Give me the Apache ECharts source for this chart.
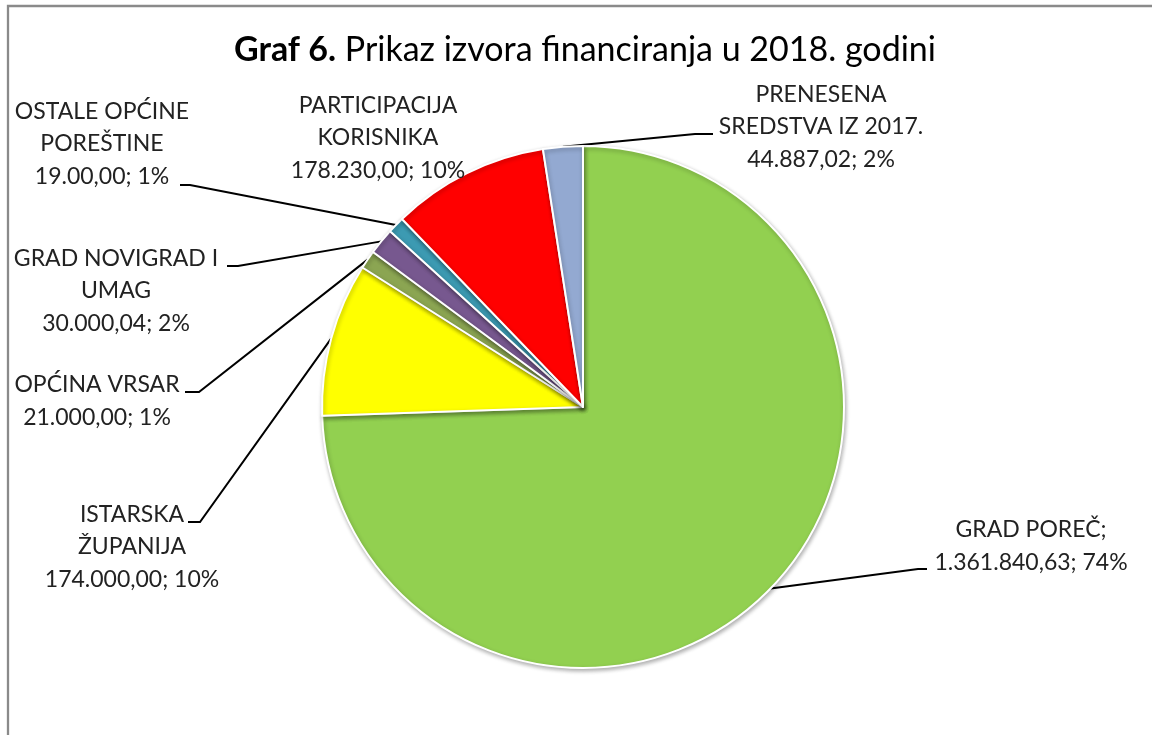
<!DOCTYPE html>
<html>
<head>
<meta charset="utf-8">
<script src="https://cdn.jsdelivr.net/npm/echarts@6/dist/echarts.min.js"></script>
<style>
html,body{margin:0;padding:0;background:#fff;}
#chart{width:1152px;height:735px;}
</style>
</head>
<body>
<div id="chart"></div>
<script>
// ---- data ----
const names = ['GRAD POREČ', 'ISTARSKA ŽUPANIJA', 'OPĆINA VRSAR', 'GRAD NOVIGRAD I UMAG', 'OSTALE OPĆINE POREŠTINE', 'PARTICIPACIJA KORISNIKA', 'PRENESENA SREDSTVA IZ 2017.'];
const labelNames = ['GRAD POREČ;', 'ISTARSKA\nŽUPANIJA', 'OPĆINA VRSAR', 'GRAD NOVIGRAD I\nUMAG', 'OSTALE OPĆINE\nPOREŠTINE', 'PARTICIPACIJA\nKORISNIKA', 'PRENESENA\nSREDSTVA IZ 2017.'];
const values = [1361840.63, 174000.00, 21000.00, 30000.04, 19000.00, 178230.00, 44887.02];
const valueTexts = ['1.361.840,63', '174.000,00', '21.000,00', '30.000,04', '19.00,00', '178.230,00', '44.887,02'];
const colors = ['#92D050', '#FFFF00', '#8BA552', '#77588F', '#3C9AB2', '#FF0000', '#93A9D1'];

// ---- label layout (positions of text blocks and leader-line bends) ----
const labelPos = [[1031, 546], [132, 547], [97, 401], [116, 291], [102, 144], [378, 138], [821, 127]];
const lineBends = [[918, 569, 927], [200, 522, 188], [199, 392, 185], [238, 266, 227], [190, 185, 180], null, [695, 134, 713]];

const FONT = 'Lato, "Open Sans", sans-serif';
const chart = echarts.init(document.getElementById('chart'), null, {renderer: 'canvas'});

const option = {
  backgroundColor: '#fff',
  animation: false,
  graphic: [
    {type: 'rect', shape: {x: 8, y: 6, width: 1300, height: 900}, style: {fill: 'none', stroke: '#8a8a8a', lineWidth: 2.3}, silent: true},
    {type: 'text', x: 585, y: 50, style: {
      text: '{b|Graf 6.} Prikaz izvora financiranja u 2018. godini',
      align: 'center', verticalAlign: 'middle',
      font: '34px ' + FONT, fill: '#000',
      rich: {b: {fontWeight: 'bold', fontSize: 34, fontFamily: FONT, fill: '#000'}}
    }}
  ],
  series: [{
    type: 'pie',
    center: [583, 407],
    radius: 261,
    startAngle: 90,
    clockwise: true,
    avoidLabelOverlap: false,
    itemStyle: {borderColor: '#fff', borderWidth: 2, shadowBlur: 4, shadowColor: 'rgba(0,0,0,0.3)', shadowOffsetX: 1, shadowOffsetY: 2},
    label: {
      show: true,
      position: 'outside',
      fontFamily: FONT,
      fontSize: 23,
      lineHeight: 32.5,
      color: '#222',
      align: 'center',
      formatter: function (p) {
        return labelNames[p.dataIndex] + '\n' + valueTexts[p.dataIndex] + '; ' + Math.round(p.percent) + '%';
      }
    },
    labelLine: {show: true, smooth: false, lineStyle: {color: '#000', width: 2}},
    labelLayout: function (p) {
      const i = p.dataIndex;
      const res = {x: labelPos[i][0], y: labelPos[i][1], align: 'center', verticalAlign: 'middle'};
      const b = lineBends[i];
      if (b) {
        const lay = chart.getModel().getSeriesByIndex(0).getData().getItemLayout(i);
        const mid = (lay.startAngle + lay.endAngle) / 2;
        const ax = lay.cx + lay.r * Math.cos(mid);
        const ay = lay.cy + lay.r * Math.sin(mid);
        res.labelLinePoints = [[ax, ay], [b[0], b[1]], [b[2], b[1]]];
      }
      return res;
    },
    data: values.map(function (v, i) {
      const d = {value: v, name: names[i], itemStyle: {color: colors[i]}};
      if (!lineBends[i]) d.labelLine = {show: false};
      return d;
    })
  }]
};
chart.setOption(option);
</script>
</body>
</html>
